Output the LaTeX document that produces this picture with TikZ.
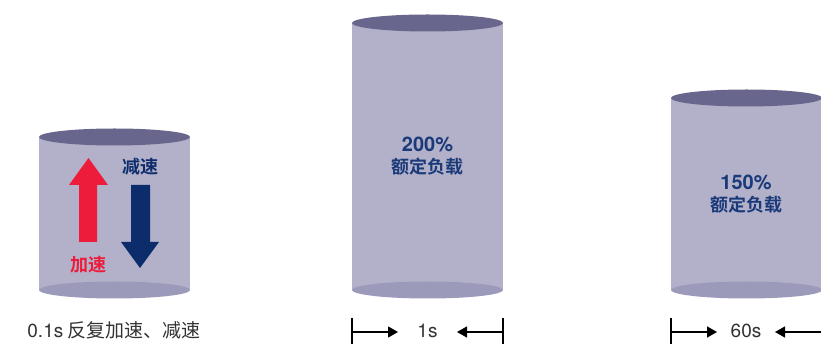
\documentclass[tikz,border=0pt]{standalone}
\usepackage{fontspec}
\setmainfont{Noto Sans CJK SC}[BoldFont={Noto Sans CJK SC Bold}]
\newfontfamily\latinfont{TeX Gyre Heros}
\usetikzlibrary{arrows.meta, positioning}

\definecolor{cylbody}{HTML}{B2B1C9}
\definecolor{cyltop}{HTML}{68668C}
\definecolor{cylbase}{HTML}{9C9ABA}
\definecolor{accred}{HTML}{EE1C3B}
\definecolor{decblue}{HTML}{0D2C6C}
\definecolor{loadblue}{HTML}{1B3A7A}
\definecolor{captext}{HTML}{333333}

\begin{document}
\begin{tikzpicture}[x=1pt, y=-1pt,
                    loadtext/.style={align=center, text=loadblue, font=\bfseries\fontsize{18}{22}\selectfont},
                    captext/.style={text=captext, font=\fontsize{19}{22}\selectfont},
                    dimline/.style={line width=1.3pt, -{Triangle[length=10pt, width=11pt]}},
                    dimbar/.style={line width=1.3pt}]
  \useasboundingbox (0,0) rectangle (821,344);

  % cylinders: left / right / top
  \foreach \l/\r/\t in {39/190/137, 352/503/23, 671/822/98}{
    \fill[cylbody] (\l,\t) rectangle (\r,290);
    \fill[cylbase] ({(\l+\r)/2},290) ellipse [x radius={(\r-\l)/2}, y radius=8.5];
    \fill[cyltop] ({(\l+\r)/2},\t) ellipse [x radius={(\r-\l)/2}, y radius=8.5];
  }

  % accelerate / decelerate
  \fill[accred] (79,242) -- (79,185) -- (69,185) -- (88.5,158) -- (108,185) -- (97,185) -- (97,242) -- cycle;
  \fill[decblue] (131,185) -- (150,185) -- (150,242) -- (159,242) -- (140,268) -- (121,242) -- (131,242) -- cycle;
  \node[font=\bfseries\fontsize{18}{22}\selectfont, text=accred] (acc) at (88,265) {加速};
  \node[font=\bfseries\fontsize{18}{22}\selectfont, text=decblue] (dec) at (140,167) {减速};

  % loads
  \node[loadtext] (load200) at (427.5,156) {{\latinfont\fontsize{20}{22}\selectfont 200\%}\\额定负载};
  \node[loadtext] (load150) at (746,194) {{\latinfont\fontsize{20}{22}\selectfont 150\%}\\额定负载};

  % captions
  \node[captext] (cap1) at (114,330) {{\latinfont 0.1s} 反复加速、减速};
  \node[captext, font=\latinfont\fontsize{19}{22}\selectfont] (cap2) at (427.5,331) {1s};
  \node[captext, font=\latinfont\fontsize{19}{22}\selectfont] (cap3) at (746,331) {60s};

  % time markers
  \coordinate (b1) at (352,332);
  \coordinate (b2) at (503,332);
  \coordinate (b3) at (671,332);
  \coordinate (b4) at (821,332);
  \coordinate (t1) at (398,332);
  \coordinate (t2) at (457,332);
  \coordinate (t3) at (717,332);
  \coordinate (t4) at (775,332);
  \draw[dimbar] (352,318) -- (352,344);
  \draw[dimbar] (503,318) -- (503,344);
  \draw[dimbar] (671,318) -- (671,344);
  \draw[dimline] (b1) -- (t1);
  \draw[dimline] (b2) -- (t2);
  \draw[dimline] (b3) -- (t3);
  \draw[dimline] (b4) -- (t4);
\end{tikzpicture}
\end{document}
